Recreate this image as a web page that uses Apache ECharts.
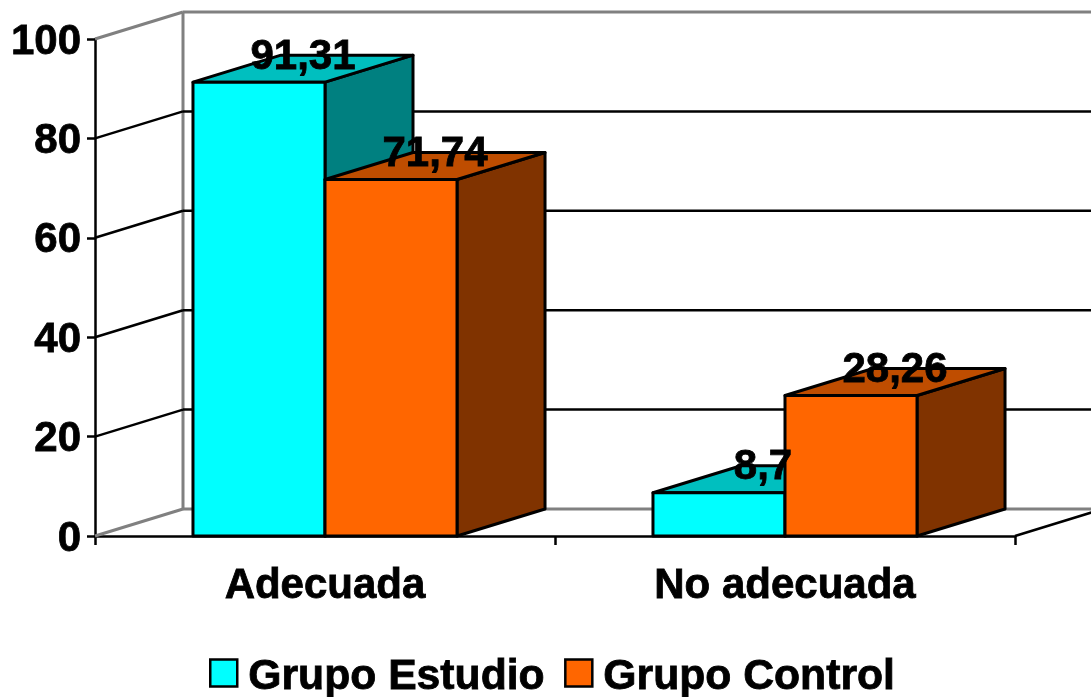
<!DOCTYPE html>
<html>
<head>
<meta charset="utf-8">
<style>
  html, body { margin: 0; padding: 0; background: #fff; }
  #chart { width: 1091px; height: 697px; }
</style>
<script src="https://cdn.jsdelivr.net/npm/echarts@6/dist/echarts.min.js"></script>
</head>
<body>
<div id="chart"></div>
<script>
const categories = ["Adecuada", "No adecuada"];
const grupoEstudio = [91.31, 8.7];
const grupoControl = [71.74, 28.26];
const yTicks = [0, 20, 40, 60, 80, 100];

// fake 3D depth, in pixels
const DX = 88;
const DY = 27;
const BAR_RATIO = 0.287;
const FONT = 'bold 42px "Liberation Sans", Arial, sans-serif';
const LINE = { stroke: "#000", lineWidth: 2.5 };
const WALL = { stroke: "#808080", lineWidth: 3 };
const TEXT_BOLD = { textBorderColor: "#000", textBorderWidth: 0.8 };

const chart = echarts.init(document.getElementById("chart"));

function poly(points, fill) {
  return { type: "polygon", shape: { points }, style: { fill, stroke: "#000", lineWidth: 3, lineJoin: "round" } };
}

// walls: one back line and one side line per y tick
function renderWall(params, api) {
  const v = api.value(1);
  const band = api.size([1, 0])[0];
  const left = api.coord([0, v]);
  const right = api.coord([categories.length - 1, v])[0] + band / 2;
  const x0 = left[0] - band / 2;
  const y = left[1];
  const edge = v === 0 || v === 100 ? WALL : LINE;
  const children = [
    { type: "line", shape: { x1: x0, y1: y, x2: x0 + DX, y2: y - DY }, style: edge },
    { type: "line", shape: { x1: x0 + DX, y1: y - DY, x2: right + DX, y2: y - DY }, style: edge },
  ];
  if (v === 0) {
    const top = api.coord([0, yTicks[yTicks.length - 1]])[1];
    children.push({ type: "line", shape: { x1: x0 + DX, y1: y - DY, x2: x0 + DX, y2: top - DY }, style: WALL });
    children.push({ type: "line", shape: { x1: right, y1: y, x2: right + DX, y2: y - DY }, style: LINE });
  }
  return { type: "group", children };
}

// side: 0 sits left of the band centre, 1 sits right of it
function renderBar(side, front, topFace, sideFace) {
  return function (params, api) {
    const p = api.coord([api.value(0), api.value(1)]);
    const base = api.coord([api.value(0), 0])[1];
    const w = api.size([1, 0])[0] * BAR_RATIO;
    const x1 = p[0] + (side - 1) * w;
    const x2 = x1 + w;
    const y = p[1];
    return {
      type: "group",
      children: [
        poly([[x2, y], [x2 + DX, y - DY], [x2 + DX, base - DY], [x2, base]], sideFace),
        poly([[x1, y], [x1 + DX, y - DY], [x2 + DX, y - DY], [x2, y]], topFace),
        poly([[x1, y], [x2, y], [x2, base], [x1, base]], front),
      ],
    };
  };
}

function renderLabel(side) {
  return function (params, api) {
    const p = api.coord([api.value(0), api.value(1)]);
    const w = api.size([1, 0])[0] * BAR_RATIO;
    return {
      type: "text",
      style: {
        text: String(api.value(1)).replace(".", ","),
        x: p[0] + (side - 0.5) * w + DX / 2,
        y: p[1] - DY + 2,
        align: "center",
        verticalAlign: "middle",
        font: FONT,
        fill: "#000",
        stroke: "#000",
        lineWidth: 0.8,
      },
    };
  };
}

function toData(values) {
  return values.map((v, i) => [i, v]);
}

chart.setOption({
  animation: false,
  backgroundColor: "#fff",
  grid: { left: 95, right: 76, top: 39, bottom: 161 },
  xAxis: {
    type: "category",
    data: categories,
    axisLine: { lineStyle: { color: "#000", width: 2.5 } },
    axisTick: { show: true, alignWithLabel: false, length: 9, lineStyle: { color: "#000", width: 2.5 } },
    axisLabel: { color: "#000", fontFamily: "Liberation Sans", fontWeight: "bold", fontSize: 42, margin: 29, ...TEXT_BOLD },
  },
  yAxis: {
    type: "value",
    min: 0,
    max: 100,
    interval: 20,
    axisLine: { show: true, lineStyle: { color: "#000", width: 2.5 } },
    axisTick: { show: true, length: 8, lineStyle: { color: "#000", width: 2.5 } },
    splitLine: { show: false },
    axisLabel: { color: "#000", fontFamily: "Liberation Sans", fontWeight: "bold", fontSize: 42, margin: 14, verticalAlign: "top", lineHeight: 6, ...TEXT_BOLD },
  },
  legend: {
    left: 209,
    top: 655,
    padding: 0,
    itemWidth: 27,
    itemHeight: 27,
    itemGap: 19,
    icon: "rect",
    data: ["Grupo Estudio", "Grupo Control"],
    itemStyle: { borderColor: "#000", borderWidth: 2.5 },
    formatter: "{t|{name}}",
    textStyle: {
      color: "#000",
      rich: {
        t: { color: "#000", fontFamily: "Liberation Sans", fontWeight: "bold", fontSize: 42.7, padding: [8, 0, 0, 6], ...TEXT_BOLD },
      },
    },
  },
  series: [
    {
      type: "custom",
      name: "walls",
      renderItem: renderWall,
      encode: { x: 0, y: 1 },
      data: yTicks.map((v) => [0, v]),
      z: 1,
    },
    {
      type: "custom",
      name: "Grupo Estudio",
      renderItem: renderBar(0, "#00FFFF", "#00BFBF", "#008080"),
      encode: { x: 0, y: 1 },
      itemStyle: { color: "#00FFFF" },
      data: toData(grupoEstudio),
      z: 3,
    },
    {
      type: "custom",
      name: "Grupo Control",
      renderItem: renderBar(1, "#FF6600", "#BF4D00", "#803300"),
      encode: { x: 0, y: 1 },
      itemStyle: { color: "#FF6600" },
      data: toData(grupoControl),
      z: 4,
    },
    {
      type: "custom",
      name: "labelsEstudio",
      renderItem: renderLabel(0),
      encode: { x: 0, y: 1 },
      data: toData(grupoEstudio),
      z: 5,
    },
    {
      type: "custom",
      name: "labelsControl",
      renderItem: renderLabel(1),
      encode: { x: 0, y: 1 },
      data: toData(grupoControl),
      z: 5,
    },
  ],
});
</script>
</body>
</html>
